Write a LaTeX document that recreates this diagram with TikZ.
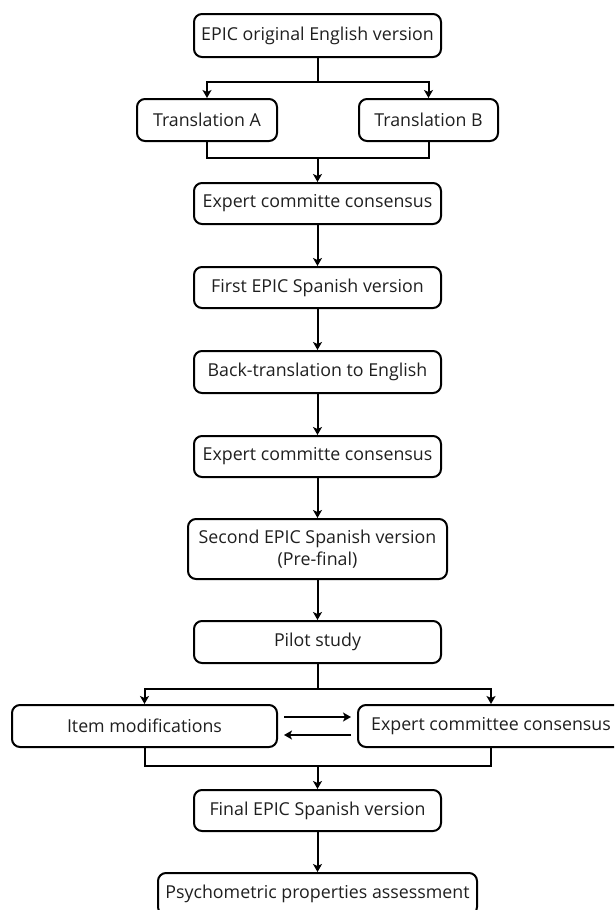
\documentclass[tikz,border=0pt]{standalone}
\usepackage{fontspec}
\setmainfont{Open Sans}
\usetikzlibrary{arrows.meta}
\begin{document}
\begin{tikzpicture}[x=1pt,y=-1pt,
  box/.style={draw, line width=2pt, rounded corners=8pt, align=center, inner sep=0pt,
    font=\fontsize{17.8}{22}\selectfont, text=black!88},
  conn/.style={line width=2pt},
  arr/.style={line width=2pt, -{Stealth[length=8pt,width=9pt,inset=2pt]}}]
\useasboundingbox (0,0) rectangle (614,910);
\clip (0,0) rectangle (614,910);
\node[box, minimum width=247pt, minimum height=43pt] (n1) at (317.5,35.5) {EPIC original English version};
\node[box, minimum width=140pt, minimum height=42pt] (tA) at (207,120) {Translation A};
\node[box, minimum width=139pt, minimum height=42pt] (tB) at (428.5,120) {Translation B};
\node[box, minimum width=247pt, minimum height=41pt] (e1) at (317.5,203.5) {Expert committe consensus};
\node[box, minimum width=247pt, minimum height=41pt] (f1) at (317.5,287.5) {First EPIC Spanish version};
\node[box, minimum width=247pt, minimum height=42pt] (bt) at (317.5,372) {Back-translation to English};
\node[box, minimum width=247pt, minimum height=41pt] (e2) at (317.5,456.5) {Expert committe consensus};
\node[box, minimum width=259pt, minimum height=60pt] (s2) at (317.5,549) {Second EPIC Spanish version\\(Pre-final)};
\node[box, minimum width=247pt, minimum height=42pt] (ps) at (317.5,642) {Pilot study};
\node[box, minimum width=265pt, minimum height=42pt] (im) at (144.5,726) {Item modifications};
\node[box, minimum width=266pt, minimum height=42pt] (ec) at (491,726) {Expert committee consensus};
\node[box, minimum width=247pt, minimum height=41pt] (fin) at (317.5,810.5) {Final EPIC Spanish version};
\node[box, minimum width=319pt, minimum height=42pt] (psy) at (317.5,894) {Psychometric properties assessment};
% split 1
\coordinate (j1) at (317.5,82);
\draw[conn] (n1.south) -- (j1);
\draw[arr] (j1) -| (tA.north);
\draw[arr] (j1) -| (tB.north);
% merge 1
\coordinate (m1) at (317.5,158);
\draw[conn] (tA.south) |- (m1);
\draw[conn] (tB.south) |- (m1);
\draw[arr] (m1) -- (e1.north);
% chain
\draw[arr] (e1) -- (f1);
\draw[arr] (f1) -- (bt);
\draw[arr] (bt) -- (e2);
\draw[arr] (e2) -- (s2);
\draw[arr] (s2) -- (ps);
% split 2
\coordinate (j2) at (317.5,689);
\draw[conn] (ps.south) -- (j2);
\draw[arr] (j2) -| (im.north);
\draw[arr] (j2) -| (ec.north);
% loop
\draw[arr] ([shift={(6,-9)}]im.east) -- ([shift={(-6,-9)}]ec.west);
\draw[arr] ([shift={(-6,9)}]ec.west) -- ([shift={(6,9)}]im.east);
% merge 2
\coordinate (m2) at (317.5,766);
\draw[conn] (im.south) |- (m2);
\draw[conn] (ec.south) |- (m2);
\draw[arr] (m2) -- (fin.north);
\draw[arr] (fin) -- (psy);
\end{tikzpicture}
\end{document}
